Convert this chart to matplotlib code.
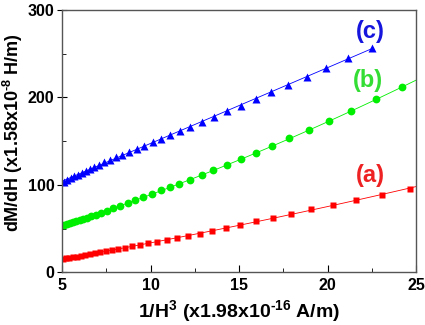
import numpy as np
import matplotlib
matplotlib.use('Agg')
import matplotlib.pyplot as plt

plt.rcParams['font.family'] = ['Liberation Sans', 'DejaVu Sans']
plt.rcParams['font.weight'] = 'bold'
plt.rcParams['mathtext.fontset'] = 'custom'
plt.rcParams['mathtext.rm'] = 'Liberation Sans:bold'
plt.rcParams['mathtext.bf'] = 'Liberation Sans:bold'
plt.rcParams['mathtext.default'] = 'bf'

# (a) red squares
xa = [5.05, 5.22, 5.40, 5.60, 5.82, 6.05, 6.30, 6.57, 6.85, 7.15, 7.47, 7.81, 8.18, 8.56,
      8.97, 9.41, 9.88, 10.35, 10.92, 11.48, 12.14, 12.80, 13.49, 14.25, 15.07, 15.98,
      16.92, 17.94, 19.08, 20.31, 21.63, 23.10, 24.66]
ya = [15.3, 15.9, 16.6, 17.3, 18.1, 19.0, 19.9, 20.8, 21.7, 22.8, 24.2, 25.6, 27.1, 28.4,
      29.9, 31.2, 33.0, 34.8, 36.8, 38.8, 41.5, 44.3, 47.3, 50.7, 54.6, 58.4,
      62.2, 66.8, 72.0, 77.0, 82.5, 89.0, 95.9]

# (b) green circles
xb = [5.10, 5.26, 5.43, 5.61, 5.80, 6.00, 6.21, 6.43, 6.66, 6.91, 7.20, 7.52, 7.90, 8.29,
      8.71, 9.14, 9.59, 10.07, 10.58, 11.08, 11.60, 12.23, 12.89, 13.55, 14.32, 15.11,
      15.94, 16.86, 17.84, 18.94, 20.10, 21.34, 22.72, 24.19]
yb = [54.1, 55.2, 56.3, 57.5, 58.7, 60.0, 61.3, 62.6, 64.0, 65.6, 67.8, 70.5, 73.2, 76.2,
      79.0, 82.7, 86.5, 89.6, 94.0, 97.5, 101.0, 105.6, 111.3, 116.5, 122.8, 129.3,
      136.2, 144.2, 153.3, 162.5, 172.8, 184.6, 198.0, 211.7]

# (c) blue triangles
xc = [5.13, 5.30, 5.50, 5.70, 5.90, 6.11, 6.36, 6.58, 6.83, 7.11, 7.39, 7.71, 8.05, 8.41,
      8.79, 9.22, 9.65, 10.12, 10.59, 11.10, 11.67, 12.23, 12.89, 13.57, 14.32, 15.10,
      15.94, 16.81, 17.79, 18.82, 19.92, 21.18, 22.50]
yc = [103.3, 105.3, 107.5, 109.7, 111.9, 114.1, 116.4, 118.4, 121.0, 123.3, 126.0, 128.6,
      131.7, 134.4, 138.1, 141.2, 144.6, 148.8, 152.6, 156.8, 161.7, 165.9, 171.8, 178.1,
      184.6, 190.7, 198.3, 206.3, 214.6, 223.8, 233.8, 244.9, 256.3]

fig = plt.figure(figsize=(4.25, 3.25), dpi=100)
ax = fig.add_axes([0.146, 0.162, 0.833, 0.807])

series = [(xa, ya, 'red', 's', 5.0, 25.0),
          (xb, yb, '#00ee00', 'o', 5.6, 25.0),
          (xc, yc, 'blue', '^', 6.2, 22.6)]
for x, y, col, mk, ms, xend in series:
    p = np.polyfit(x, y, 2)
    xf = np.linspace(5, xend, 100)
    ax.plot(xf, np.polyval(p, xf), color=col, lw=0.6)
    ax.plot(x, y, mk, color=col, ms=ms, mec='none')

ax.text(22.4, 275, '(c)', color='#1515dd', fontsize=17, fontweight='bold', ha='center', va='center')
ax.text(22.3, 220, '(b)', color='#33dd33', fontsize=17, fontweight='bold', ha='center', va='center')
ax.text(22.4, 111, '(a)', color='#ee2222', fontsize=17, fontweight='bold', ha='center', va='center')

ax.set_xlim(5, 25)
ax.set_ylim(0, 300)
ax.set_xticks([5, 10, 15, 20, 25])
ax.set_yticks([0, 100, 200, 300])
ax.set_xticks([7.5, 12.5, 17.5, 22.5], minor=True)
ax.set_yticks([50, 150, 250], minor=True)
ax.tick_params(axis='x', which='major', direction='in', length=5, labelsize=11.5, pad=4)
ax.tick_params(axis='y', which='major', direction='inout', length=7, labelsize=11.5, pad=2)
ax.tick_params(which='minor', direction='in', length=3)
for s in ax.spines.values():
    s.set_color('#555555')
    s.set_linewidth(1.0)

ax.set_xlabel('1/H$^{3}$ (x1.98x10$^{\u2010 16}$ A/m)', fontsize=14, fontweight='bold')
ax.set_ylabel('dM/dH (x1.58x10$^{\u2010 8}$ H/m)', fontsize=13, fontweight='bold')
ax.xaxis.label.set_va('center')
ax.xaxis.set_label_coords(0.5, -0.148)
ax.yaxis.label.set_va('center')
ax.yaxis.set_label_coords(-0.138, 0.533)

fig.savefig('out.png', dpi=100)
